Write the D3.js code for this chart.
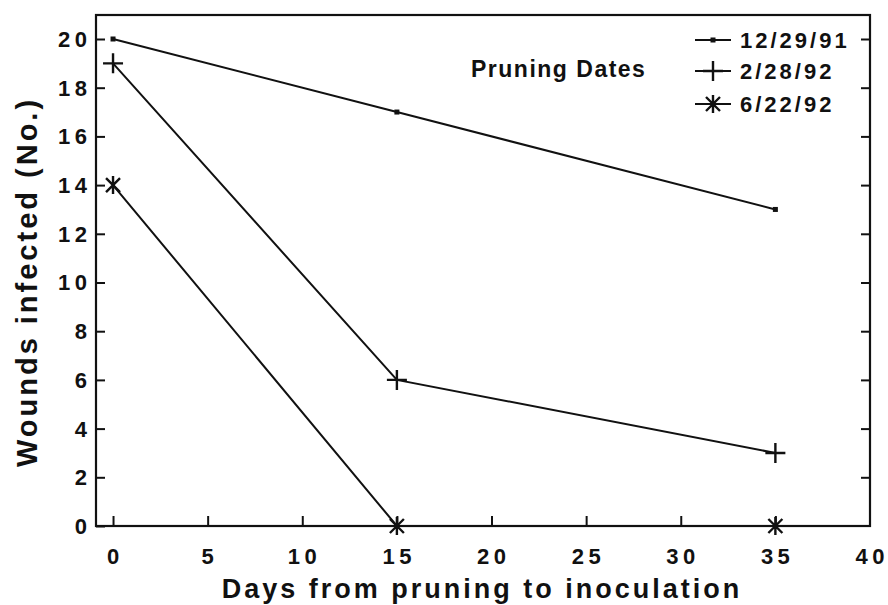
<!DOCTYPE html>
<html><head><meta charset="utf-8">
<script src="https://cdn.jsdelivr.net/npm/d3@7"></script>
<style>body{margin:0;background:#fff}text{font-family:"Liberation Sans",Arial,sans-serif;fill:#111;font-weight:bold}</style>
</head><body><svg id="c" width="888" height="605"></svg>
<script>
const days = [0, 15, 35];
const seriesNames = ["12/29/91", "2/28/92", "6/22/92"];
const seriesSymbols = ["dot", "plus", "star"];
const s1 = [20, 17, 13];
const s2 = [19, 6, 3];
const s3 = [14, 0, 0];
const xTicks = [0, 5, 10, 15, 20, 25, 30, 35, 40];
const yTicks = [0, 2, 4, 6, 8, 10, 12, 14, 16, 18, 20];
const seriesValues = [s1, s2, s3];

const svg = d3.select("#c");
const x = d3.scaleLinear().domain([-0.9, 40]).range([96, 870]);
const y = d3.scaleLinear().domain([0, 20]).range([526, 39]);
const yTop = 15;
const ink = "#111";
const ls = 3;
const tls = 4.5;

// frame
svg.append("rect").attr("x", 96).attr("y", yTop).attr("width", 870 - 96).attr("height", 526 - yTop)
  .attr("fill", "none").attr("stroke", ink).attr("stroke-width", 2.2);

// left axis ticks inward
const gl = svg.append("g").attr("transform", "translate(96,0)")
  .call(d3.axisRight(y).tickValues(yTicks).tickSize(9).tickFormat(""));
gl.select(".domain").remove();
gl.selectAll("line").attr("stroke", ink).attr("stroke-width", 2);
svg.append("g").selectAll("text").data(yTicks).join("text")
  .attr("x", 87 + tls).attr("y", d => y(d)).attr("dy", "0.36em").attr("text-anchor", "end")
  .attr("font-size", 22).attr("letter-spacing", tls).text(d => d);

// right axis ticks inward
const gr = svg.append("g").attr("transform", "translate(870,0)")
  .call(d3.axisLeft(y).tickValues(yTicks.filter(d => d > 0)).tickSize(9).tickFormat(""));
gr.select(".domain").remove();
gr.selectAll("line").attr("stroke", ink).attr("stroke-width", 2);

// bottom ticks inward
const gb = svg.append("g").attr("transform", "translate(0,526)")
  .call(d3.axisTop(x).tickValues(xTicks.filter(d => d < 40)).tickSize(10).tickFormat(""));
gb.select(".domain").remove();
gb.selectAll("line").attr("stroke", ink).attr("stroke-width", 2);
svg.append("g").selectAll("text").data(xTicks).join("text")
  .attr("x", d => x(d) + tls / 2).attr("y", 564).attr("text-anchor", "middle")
  .attr("font-size", 22).attr("letter-spacing", tls).text(d => d);

// axis titles
svg.append("text").attr("x", 482).attr("y", 598).attr("text-anchor", "middle")
  .attr("font-size", 27).attr("letter-spacing", 3).text("Days from pruning to inoculation");
svg.append("text").attr("transform", "translate(37,282) rotate(-90)").attr("text-anchor", "middle")
  .attr("font-size", 29).attr("letter-spacing", 3).text("Wounds infected (No.)");

function drawSymbol(g, kind, cx, cy) {
  if (kind === "dot") {
    g.append("rect").attr("x", cx - 2.5).attr("y", cy - 2.5).attr("width", 5).attr("height", 5).attr("fill", ink);
  } else if (kind === "plus") {
    g.append("path").attr("d", `M${cx-10},${cy}H${cx+10}M${cx},${cy-10}V${cy+10}`)
      .attr("stroke", ink).attr("stroke-width", 2.4).attr("fill", "none");
  } else {
    const r = 9, a = 7;
    g.append("path").attr("d", `M${cx},${cy-r}V${cy+r}M${cx-a},${cy-a}L${cx+a},${cy+a}M${cx+a},${cy-a}L${cx-a},${cy+a}`)
      .attr("stroke", ink).attr("stroke-width", 2.4).attr("fill", "none");
  }
}

const line = d3.line().x(d => x(d[0])).y(d => y(d[1]));
seriesValues.forEach((vals, i) => {
  const pts = days.map((d, j) => [d, vals[j]]);
  svg.append("path").attr("d", line(pts)).attr("fill", "none").attr("stroke", ink).attr("stroke-width", 2);
  const g = svg.append("g");
  pts.forEach(p => drawSymbol(g, seriesSymbols[i], x(p[0]), y(p[1])));
});

// legend
svg.append("text").attr("x", 471).attr("y", 77).attr("font-size", 23).attr("letter-spacing", 1.5).text("Pruning Dates");
const legY = [40, 71, 104];
seriesNames.forEach((name, i) => {
  svg.append("line").attr("x1", 695).attr("x2", 731).attr("y1", legY[i]).attr("y2", legY[i]).attr("stroke", ink).attr("stroke-width", 2);
  drawSymbol(svg.append("g"), seriesSymbols[i], 713, legY[i]);
  svg.append("text").attr("x", 740).attr("y", legY[i]).attr("dy", "0.36em").attr("font-size", 22).attr("letter-spacing", ls).text(name);
});
</script></body></html>
